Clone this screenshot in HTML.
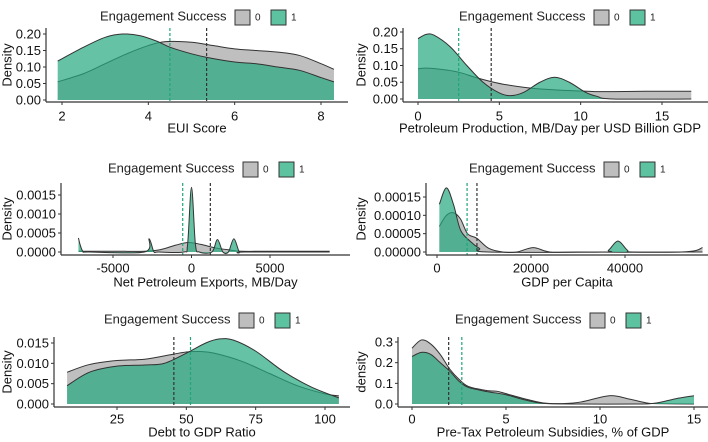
<!DOCTYPE html>
<html><head><meta charset="utf-8"><style>
body{margin:0;background:#fff;}
svg{display:block;font-family:"Liberation Sans",Arial,sans-serif;}
</style></head><body>
<svg id="c" width="708" height="442"></svg>
<script>
// Panel 1: EUI Score
const p1X0=[1.9,2.5,3,3.5,4,4.4,5,5.5,6,6.5,7,7.5,8,8.3];
const p1Y0=[0.055,0.08,0.11,0.14,0.165,0.177,0.175,0.165,0.155,0.15,0.145,0.135,0.11,0.093];
const p1X1=[1.9,2.5,3,3.4,3.8,4.2,4.5,5,5.4,6,6.5,7,7.5,8,8.3];
const p1Y1=[0.118,0.16,0.19,0.2,0.195,0.178,0.16,0.14,0.128,0.115,0.11,0.1,0.09,0.068,0.055];
const p1Means=[5.35,4.5];
const p1YTicks=["0.00","0.05","0.10","0.15","0.20"];
const p1XTicks=["2","4","6","8"];
// Panel 2: Petroleum production
const p2X0=[0,0.5,1.5,2.5,3.5,4.5,5.5,7,8.5,10,11,12,14,16.8];
const p2Y0=[0.09,0.092,0.088,0.08,0.065,0.052,0.042,0.032,0.027,0.024,0.022,0.022,0.023,0.023];
const p2X1=[0,0.5,1,2,3,4,5,5.7,6.5,7.5,8.4,9.3,10.3,11,12,16.8];
const p2Y1=[0.18,0.193,0.19,0.155,0.1,0.05,0.018,0.01,0.02,0.05,0.065,0.05,0.02,0.008,0,0];
const p2Means=[4.5,2.5];
const p2YTicks=["0.00","0.05","0.10","0.15","0.20"];
const p2XTicks=["0","5","10","15"];
// Panel 3: Net petroleum exports
const p3X0=[-7200,-5000,-3000,-2000,-1000,-200,600,1500,2500,3200,5000,7000,8800];
const p3Y0=[0.00002,0.00002,0.00002,0.00006,0.00018,0.00025,0.0002,0.00011,0.00005,0.00002,0.00002,0.00002,0.00002];
const p3X1=[-7200,-7100,-6900,-6500,-3000,-2700,-2400,-2100,-500,-250,0,250,500,1300,1650,2000,2350,2700,3050,3400,8800];
const p3Y1=[0.00037,0.0002,0.00001,0,0,0.00035,0.00001,0,0,0.0002,0.0017,0.0002,0,0,0.00033,0,0,0.00035,0,0,0];
const p3Means=[1200,-560];
const p3YTicks=["0.0000","0.0005","0.0010","0.0015"];
const p3XTicks=["-5000","0","5000"];
// Panel 4: GDP per capita
const p4X0=[500,2000,3500,5000,6500,8500,11000,14000,17000,20500,24000,30000,52000,56500];
const p4Y0=[0.00007,0.0001,0.000107,0.00009,0.00005,0.000037,0.00001,0,0,0.000012,0,0,0,0.000012];
const p4X1=[500,2000,3500,5000,7000,9000,11000,35000,36500,38500,40500,42000,56500];
const p4Y1=[0.00013,0.000175,0.00013,0.00006,0.00003,0.00001,0,0,0.000005,0.00003,0.000005,0,0];
const p4Means=[8500,6400];
const p4YTicks=["0.00000","0.00005","0.00010","0.00015"];
const p4XTicks=["0","20000","40000"];
// Panel 5: Debt to GDP
const p5X0=[7,15,25,35,45,50,55,60,70,80,90,100,105];
const p5Y0=[0.0078,0.0097,0.0107,0.011,0.0122,0.0128,0.0129,0.0125,0.0105,0.0075,0.0045,0.0025,0.002];
const p5X1=[7,15,25,35,42,50,57,62,67,75,85,95,105];
const p5Y1=[0.0045,0.0078,0.0093,0.0096,0.01,0.0125,0.015,0.016,0.0157,0.013,0.008,0.0042,0.0015];
const p5Means=[45.5,51.5];
const p5YTicks=["0.000","0.005","0.010","0.015"];
const p5XTicks=["25","50","75","100"];
// Panel 6: Pre-tax subsidies
const p6X0=[0,0.5,1,1.5,2,2.5,3,4,4.5,5,6,7,8,9,10.5,11.5,12.5,13,15];
const p6Y0=[0.27,0.31,0.29,0.24,0.17,0.12,0.085,0.065,0.062,0.05,0.025,0.005,0.002,0.01,0.04,0.025,0.005,0.002,0];
const p6X1=[0,0.5,1,1.5,2,2.5,3,4,5,6,7,9,12,13,14,15];
const p6Y1=[0.23,0.25,0.24,0.2,0.16,0.11,0.08,0.06,0.045,0.02,0.003,0,0,0.005,0.025,0.04];
const p6Means=[1.95,2.65];
const p6YTicks=["0.0","0.1","0.2","0.3"];
const p6XTicks=["0","5","10","15"];

const NS="http://www.w3.org/2000/svg";
const svg=document.getElementById('c');
function mk(tag,attrs,parent){const e=document.createElementNS(NS,tag);for(const k in attrs)e.setAttribute(k,attrs[k]);(parent||svg).appendChild(e);return e;}
function smooth(pts){let d="M"+pts[0][0]+","+pts[0][1];for(let i=0;i<pts.length-1;i++){const p0=pts[Math.max(0,i-1)],p1=pts[i],p2=pts[i+1],p3=pts[Math.min(pts.length-1,i+2)];const c1x=p1[0]+(p2[0]-p0[0])/6,c1y=p1[1]+(p2[1]-p0[1])/6,c2x=p2[0]-(p3[0]-p1[0])/6,c2y=p2[1]-(p3[1]-p1[1])/6;d+=" C"+c1x+","+c1y+" "+c2x+","+c2y+" "+p2[0]+","+p2[1];}return d;}

const panels=[
 {key:"eui",title:"EUI Score",ylab:"Density",X0:p1X0,Y0:p1Y0,X1:p1X1,Y1:p1Y1,means:p1Means,yt:p1YTicks,xt:p1XTicks,xv:[2,4,6,8],yv:[0,0.05,0.1,0.15,0.2],
  ax:46,right:348,xa:[2,62],xb:[8,321],ya:[0,100],yb:[0.2,34],base:102,top:28,legX:100,legY:10,tickY:117,titY:129},
 {key:"petroleum-production",title:"Petroleum Production, MB/Day per USD Billion GDP",ylab:"Density",X0:p2X0,Y0:p2Y0,X1:p2X1,Y1:p2Y1,means:p2Means,yt:p2YTicks,xt:p2XTicks,xv:[0,5,10,15],yv:[0,0.05,0.1,0.15,0.2],
  ax:403,right:708,titX:550,xa:[0,418],xb:[15,662],ya:[0,99],yb:[0.2,32],base:102,top:28,legX:459,legY:10,tickY:117,titY:129},
 {key:"net-exports",title:"Net Petroleum Exports, MB/Day",ylab:"Density",X0:p3X0,Y0:p3Y0,X1:p3X1,Y1:p3Y1,means:p3Means,yt:p3YTicks,xt:p3XTicks,xv:[-5000,0,5000],yv:[0,0.0005,0.001,0.0015],
  ax:61,right:350,xa:[-5000,113],xb:[5000,270],ya:[0,252],yb:[0.0015,195],base:255,top:183,legX:108,legY:162,tickY:269,titY:283},
 {key:"gdp-per-capita",title:"GDP per Capita",ylab:"Density",X0:p4X0,Y0:p4Y0,X1:p4X1,Y1:p4Y1,means:p4Means,yt:p4YTicks,xt:p4XTicks,xv:[0,20000,40000],yv:[0,0.00005,0.0001,0.00015],
  ax:426,right:708,xa:[0,437],xb:[40000,625],ya:[0,252],yb:[0.00015,197],base:255,top:183,legX:469,legY:162,tickY:269,titY:283},
 {key:"debt-to-gdp",title:"Debt to GDP Ratio",ylab:"Density",X0:p5X0,Y0:p5Y0,X1:p5X1,Y1:p5Y1,means:p5Means,yt:p5YTicks,xt:p5XTicks,xv:[25,50,75,100],yv:[0,0.005,0.01,0.015],
  ax:54,right:350,xa:[25,117],xb:[100,325],ya:[0,404],yb:[0.015,343],base:407,top:337,legX:104,legY:313,tickY:420,titY:433},
 {key:"pretax-subsidies",title:"Pre-Tax Petroleum Subsidies, % of GDP",ylab:"density",X0:p6X0,Y0:p6Y0,X1:p6X1,Y1:p6Y1,means:p6Means,yt:p6YTicks,xt:p6XTicks,xv:[0,5,10,15],yv:[0,0.1,0.2,0.3],
  ax:398,right:708,xa:[0,412],xb:[15,694],ya:[0,404],yb:[0.3,342],base:407,top:337,legX:455,legY:313,tickY:420,titY:433}
];

panels.forEach(p=>{
 const g=mk('g',{});
 
 
 const sx=v=>p.xa[1]+(v-p.xa[0])*(p.xb[1]-p.xa[1])/(p.xb[0]-p.xa[0]);
 const sy=v=>p.ya[1]+(v-p.ya[0])*(p.yb[1]-p.ya[1])/(p.yb[0]-p.ya[0]);
 const lg=mk('g',{},g);
 
 
 const lt=mk('text',{x:p.legX,y:p.legY+7,'font-size':13,fill:'#222','dominant-baseline':'middle'},lg);lt.textContent="Engagement Success";
 [["0","#bebebe"],["1","#5cc2a0"]].forEach((k,i)=>{
  const bx=p.legX+135+i*36;
  const r=mk('rect',{x:bx,y:p.legY,width:15,height:15,fill:k[1],stroke:'#333','stroke-width':1},lg);
  
  
  const t=mk('text',{x:bx+20,y:p.legY+8,'font-size':10,fill:'#222','dominant-baseline':'middle'},lg);t.textContent=k[0];
 });
 [[p.X0,p.Y0,'#bfbfbf',1,'group-0-density'],[p.X1,p.Y1,'rgba(36,168,127,0.7)',1,'group-1-density']].forEach(s=>{
  const pts=s[0].map((x,i)=>[sx(x),Math.min(sy(s[1][i]),sy(0))]);
  const line=smooth(pts);
  const area=line+" L"+pts[pts.length-1][0]+","+sy(0)+" L"+pts[0][0]+","+sy(0)+" Z";
  const a=mk('path',{d:area,fill:s[2],stroke:'none'},g);
  
  
  const l=mk('path',{d:line,fill:'none',stroke:'#333','stroke-width':1},g);
  
  
 });
 p.means.forEach((m,i)=>{
  const ml=mk('line',{x1:sx(m),x2:sx(m),y1:p.top,y2:p.base,stroke:i?'#1fa67a':'#333','stroke-width':1.2,'stroke-dasharray':'3,2'},g);
  
  
 });
 const ya=mk('line',{x1:p.ax,x2:p.ax,y1:p.top,y2:p.base,stroke:'#333','stroke-width':1.2},g);
 
 
 const xa=mk('line',{x1:p.ax,x2:p.right,y1:p.base,y2:p.base,stroke:'#333','stroke-width':1.2},g);
 
 
 p.yv.forEach((v,i)=>{
  mk('line',{x1:p.ax-3,x2:p.ax,y1:sy(v),y2:sy(v),stroke:'#333'},g);
  const t=mk('text',{x:p.ax-5,y:sy(v)+1,'font-size':13,fill:'#111','text-anchor':'end','dominant-baseline':'middle'},g);
  
  
  t.textContent=p.yt[i];
 });
 p.xv.forEach((v,i)=>{
  mk('line',{x1:sx(v),x2:sx(v),y1:p.base,y2:p.base+3,stroke:'#333'},g);
  const t=mk('text',{x:sx(v),y:p.tickY,'font-size':13,fill:'#111','text-anchor':'middle','dominant-baseline':'middle'},g);
  
  
  t.textContent=p.xt[i];
 });
 const xt=mk('text',{x:p.titX||(p.ax+p.right)/2,y:p.titY,'font-size':13,fill:'#111','text-anchor':'middle','dominant-baseline':'middle'},g);
 
 
 xt.textContent=p.title;
 const cy=(p.top+p.base)/2;
 const yt=mk('text',{x:0,y:0,'font-size':13,fill:'#111','text-anchor':'middle','dominant-baseline':'middle',transform:`translate(${p.ax<200?8:362},${cy}) rotate(-90)`},g);
 
 
 yt.textContent=p.ylab;
});
</script>
</body></html>
